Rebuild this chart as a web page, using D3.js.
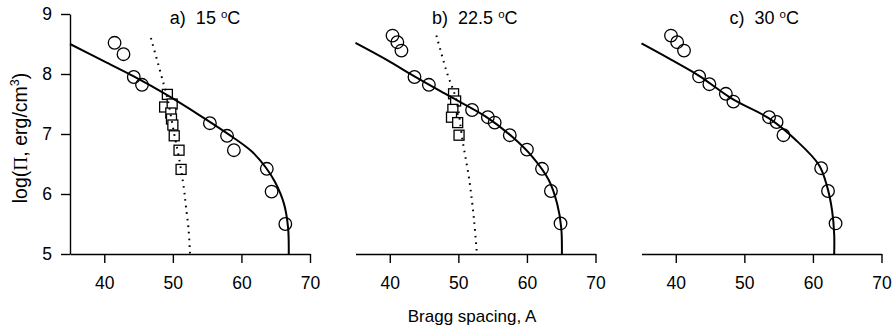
<!DOCTYPE html>
<html>
<head>
<meta charset="utf-8">
<script src="https://cdn.jsdelivr.net/npm/d3@7"></script>
<style>
  body { margin: 0; background: #fff; }
  svg { display: block; font-family: "Liberation Sans", Arial, sans-serif; }
  .axis path, .axis line { stroke: #000; stroke-width: 1.4; }
  .axis text { font-size: 17.5px; fill: #000; }
</style>
</head>
<body>
<div id="chart"></div>
<script>
// tick labels
var xTicks = [40, 50, 60, 70];
var yTicks = [5, 6, 7, 8, 9];

// panel titles
var titles = ["a)", "b)", "c)"];
var temps = ["15", "22.5", "30"];

// open circles [spacing, log(Pi)]
var circlesA = [[41.5, 8.52], [42.8, 8.33], [44.3, 7.95], [45.5, 7.82], [55.4, 7.18],
                [57.9, 6.97], [58.9, 6.73], [63.7, 6.42], [64.4, 6.04], [66.4, 5.50]];
var circlesB = [[40.4, 8.64], [41.1, 8.53], [41.7, 8.39], [43.6, 7.95], [45.7, 7.82],
                [52.0, 7.40], [54.3, 7.28], [55.3, 7.19], [57.5, 6.98], [60.0, 6.74],
                [62.2, 6.42], [63.5, 6.05], [64.9, 5.51]];
var circlesC = [[39.3, 8.64], [40.2, 8.53], [41.2, 8.39], [43.4, 7.96], [44.9, 7.83],
                [47.3, 7.67], [48.4, 7.54], [53.6, 7.28], [54.7, 7.20], [55.7, 6.98],
                [61.2, 6.43], [62.2, 6.05], [63.3, 5.51]];

// open squares
var squaresA = [[49.2, 7.66], [48.8, 7.45], [49.9, 7.50], [49.7, 7.35], [49.8, 7.25],
                [50.0, 7.15], [50.2, 6.97], [50.9, 6.73], [51.2, 6.41]];
var squaresB = [[49.3, 7.67], [49.6, 7.55], [49.2, 7.41], [49.0, 7.28], [49.9, 7.19],
                [50.1, 6.98]];
var squaresC = [];

// fitted curves (solid)
var solidA = [[35, 8.50], [40, 8.21], [44.3, 7.96], [49, 7.66], [53.8, 7.32], [58.7, 6.95],
              [61.6, 6.70], [63.5, 6.45], [64.9, 6.20], [66.2, 5.84], [66.8, 5.44], [66.9, 5.0]];
var solidB = [[35, 8.52], [39.5, 8.24], [43.6, 7.96], [48.7, 7.63], [54.0, 7.29], [57.9, 6.95],
              [60.8, 6.62], [63.2, 6.23], [64.4, 5.84], [65.0, 5.44], [65.1, 5.0]];
var solidC = [[35, 8.51], [39.3, 8.24], [43.4, 7.97], [48.3, 7.58], [53.6, 7.26], [57.5, 6.90],
              [60.9, 6.48], [62.1, 6.11], [62.8, 5.72], [63.1, 5.33], [63.1, 5.0]];

// dotted curves
var dottedA = [[46.8, 8.6], [48.5, 7.9], [49.2, 7.6], [50.2, 7.0], [50.9, 6.6],
               [51.6, 6.1], [51.9, 5.8], [52.3, 5.4], [52.5, 5.0]];
var dottedB = [[46.8, 8.64], [48.4, 8.0], [49.7, 7.57], [50.6, 6.9], [51.6, 6.23],
               [52.3, 5.55], [52.7, 5.0]];
var dottedC = [];

var panels = [
    {title: titles[0], temp: temps[0], circles: circlesA, squares: squaresA, solid: solidA, dotted: dottedA, left: 70,  titleX: 54.7},
    {title: titles[1], temp: temps[1], circles: circlesB, squares: squaresB, solid: solidB, dotted: dottedB, left: 355.5, titleX: 52.4},
    {title: titles[2], temp: temps[2], circles: circlesC, squares: squaresC, solid: solidC, dotted: dottedC, left: 641.5, titleX: 52.9}
];

var width = 893, height = 332;
var panelWidth = 240;
var plotTop = 14, plotBottom = 254;

var svg = d3.select("#chart")
    .append("svg")
        .attr("width", width)
        .attr("height", height);

var y = d3.scaleLinear()
    .domain([5, 9])
    .range([plotBottom, plotTop]);

panels.forEach(function(p, i){
    var x = d3.scaleLinear()
        .domain([35, 70])
        .range([p.left, p.left + panelWidth]);

    /* X axis */
    var xAxis = d3.axisBottom(x)
        .tickValues(xTicks)
        .tickSize(9)
        .tickSizeOuter(0)
        .tickPadding(14);
    svg.append("g")
        .attr("class", "axis")
        .attr("transform", "translate(0," + plotBottom + ")")
        .call(xAxis);

    /* Y axis only on the first panel */
    if (i === 0) {
        var yAxis = d3.axisLeft(y)
            .tickValues(yTicks)
            .tickFormat(d3.format("d"))
            .tickSize(9)
            .tickSizeOuter(0)
            .tickPadding(9);
        svg.append("g")
            .attr("class", "axis")
            .attr("transform", "translate(" + p.left + ",0)")
            .call(yAxis);
    }

    var line = d3.line()
        .curve(d3.curveCatmullRom)
        .x(function(d){ return x(d[0]); })
        .y(function(d){ return y(d[1]); });

    /* Squares (white filled) */
    var s = 10;
    svg.selectAll(".sq" + i)
        .data(p.squares)
        .enter()
        .append("rect")
            .attr("class", "sq" + i)
            .attr("x", function(d){ return x(d[0]) - s / 2; })
            .attr("y", function(d){ return y(d[1]) - s / 2; })
            .attr("width", s)
            .attr("height", s)
            .attr("fill", "#fff")
            .attr("stroke", "#000")
            .attr("stroke-width", 1.3);

    /* Dotted curve */
    if (p.dotted.length) {
        svg.append("path")
            .attr("d", line(p.dotted))
            .attr("fill", "none")
            .attr("stroke", "#000")
            .attr("stroke-width", 2)
            .attr("stroke-dasharray", "1.6,5");
    }

    /* Solid curve */
    svg.append("path")
        .attr("d", line(p.solid))
        .attr("fill", "none")
        .attr("stroke", "#000")
        .attr("stroke-width", 2);

    /* Circles */
    svg.selectAll(".ci" + i)
        .data(p.circles)
        .enter()
        .append("circle")
            .attr("class", "ci" + i)
            .attr("cx", function(d){ return x(d[0]); })
            .attr("cy", function(d){ return y(d[1]); })
            .attr("r", 6.3)
            .attr("fill", "none")
            .attr("stroke", "#000")
            .attr("stroke-width", 1.3);

    /* Title */
    var t = svg.append("text")
        .attr("x", x(p.titleX))
        .attr("y", 24)
        .attr("text-anchor", "middle")
        .attr("font-size", 18);
    t.append("tspan").text(p.title + "\u00a0\u00a0" + p.temp + " ");
    t.append("tspan").attr("font-size", 11.5).attr("dy", -6.5).text("o");
    t.append("tspan").attr("dy", 6.5).text("C");
});

/* Axis labels */
var yl = svg.append("text")
    .attr("transform", "translate(27,138) rotate(-90)")
    .attr("text-anchor", "middle")
    .attr("font-size", 19.5);
yl.append("tspan").text("log(");
yl.append("tspan").attr("font-family", "'Liberation Serif', 'DejaVu Serif', serif").text("\u03a0");
yl.append("tspan").text(", erg/cm");
yl.append("tspan").attr("font-size", 12.5).attr("dy", -8).text("3");
yl.append("tspan").attr("dy", 8).text(")");

svg.append("text")
    .attr("x", 472)
    .attr("y", 322)
    .attr("text-anchor", "middle")
    .attr("font-size", 17)
    .text("Bragg spacing, A");
</script>
</body>
</html>
